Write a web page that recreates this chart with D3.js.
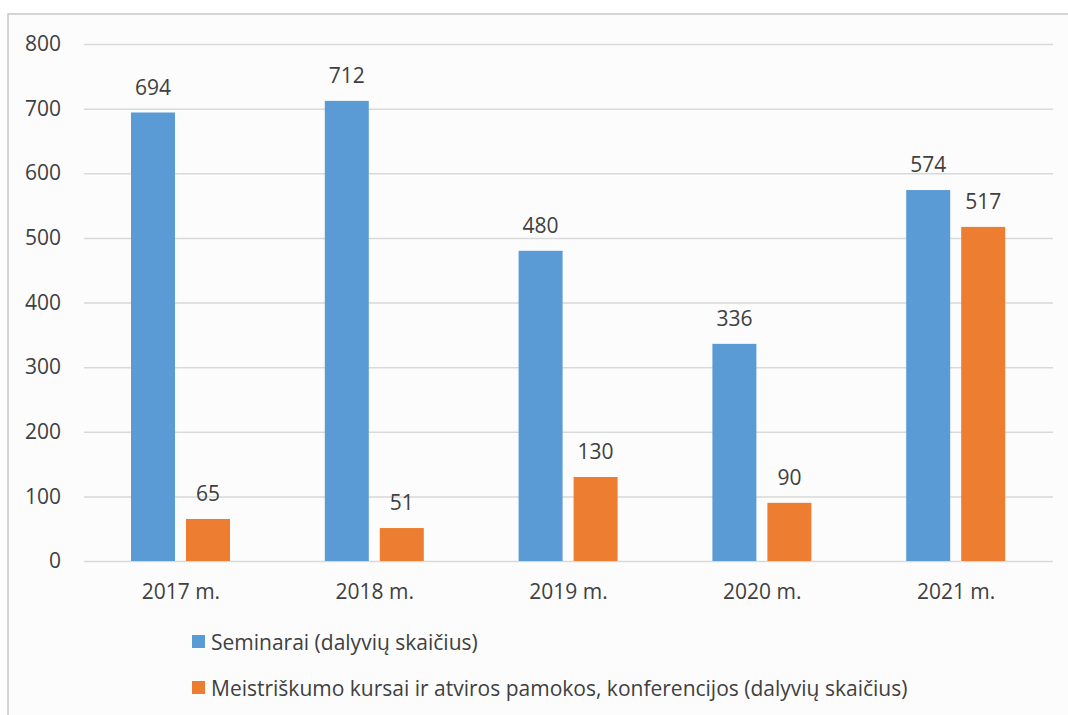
<!DOCTYPE html>
<html>
<head>
  <meta charset="utf-8">
  <title>Seminarai ir kursai</title>
  <style>
    body{
      margin: 0;
      padding: 0;
      background-color: #fff;
    }
    .chart text{
      font-family: "Open Sans", sans-serif;
      fill: #404040;
    }
  </style>
</head>
<body>
<svg class="chart"></svg>
<script src="https://d3js.org/d3.v7.min.js"></script>
<script>

var years = ["2017 m.", "2018 m.", "2019 m.", "2020 m.", "2021 m."];
var seminarai = [694, 712, 480, 336, 574];
var kursai = [65, 51, 130, 90, 517];
var seriesNames = ["Seminarai (dalyvių skaičius)",
                   "Meistriškumo kursai ir atviros pamokos, konferencijos (dalyvių skaičius)"];
var yTicks = [0, 100, 200, 300, 400, 500, 600, 700, 800];
var colors = ["#5b9bd5", "#ed7d31"];

var W = 1068, H = 715;
var margin = {top: 44, right: 15, bottom: 154, left: 84},
    width = W - margin.left - margin.right,
    height = H - margin.top - margin.bottom;

var svg = d3.select(".chart")
    .attr("width", W)
    .attr("height", H);

// frame
svg.append("rect")
    .attr("x", 8).attr("y", 14)
    .attr("width", W).attr("height", H)
    .attr("fill", "#fcfcfc")
    .attr("stroke", "#c6c6c6")
    .attr("stroke-width", 1.5);

var g = svg.append("g")
    .attr("transform", "translate(" + margin.left + "," + margin.top + ")");

var x = d3.scaleBand().domain(years).range([0, width]);
var xs = d3.scaleBand().domain([0, 1]).range([47, 146]).paddingInner(0.2);
var y = d3.scaleLinear().domain([0, 800]).range([height, 0]);

// gridlines + y labels
var yAxis = g.append("g")
    .call(d3.axisLeft(y).tickValues(yTicks).tickSize(-width).tickPadding(23));
yAxis.select(".domain").remove();
yAxis.selectAll(".tick line").attr("stroke", "#d9d9d9").attr("stroke-width", 1.5);
yAxis.selectAll(".tick text").style("font-size", "21px").attr("fill", "#404040");

// x labels
var xAxis = g.append("g")
    .attr("transform", "translate(0," + height + ")")
    .call(d3.axisBottom(x).tickSize(0).tickPadding(23));
xAxis.select(".domain").remove();
xAxis.selectAll(".tick text").style("font-size", "21px").attr("fill", "#404040");

var series = [seminarai, kursai];

series.forEach(function(vals, s) {
  g.selectAll(".bar" + s)
      .data(vals)
      .enter().append("rect")
      .attr("class", "bar" + s)
      .attr("x", function(d, i) { return x(years[i]) + xs(s); })
      .attr("width", xs.bandwidth())
      .attr("y", function(d) { return y(d); })
      .attr("height", function(d) { return height - y(d); })
      .attr("fill", colors[s]);

  g.selectAll(".lbl" + s)
      .data(vals)
      .enter().append("text")
      .attr("class", "lbl" + s)
      .attr("x", function(d, i) { return x(years[i]) + xs(s) + xs.bandwidth() / 2; })
      .attr("y", function(d) { return y(d) - 18; })
      .attr("text-anchor", "middle")
      .style("font-size", "21px")
      .text(function(d) { return d; });
});

// legend
var legend = svg.append("g");
seriesNames.forEach(function(name, i) {
  var ly = 643 + i * 46;
  legend.append("rect")
      .attr("x", 192).attr("y", ly - 8)
      .attr("width", 13).attr("height", 13)
      .attr("fill", colors[i]);
  legend.append("text")
      .attr("x", 211).attr("y", ly)
      .attr("dy", "0.35em")
      .style("font-size", "21px")
      .text(name);
});

</script>
</body>
</html>
